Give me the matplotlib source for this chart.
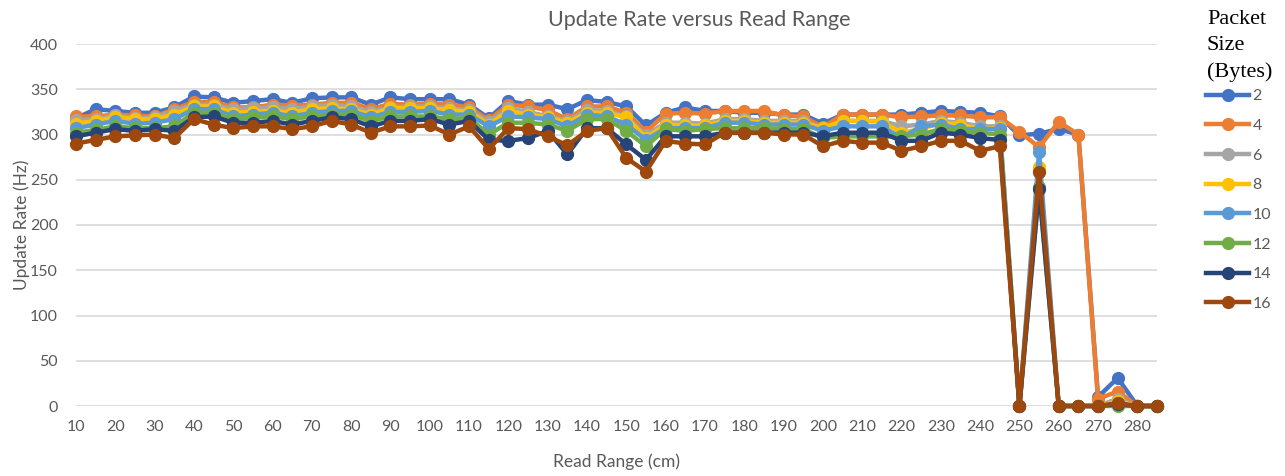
import matplotlib
matplotlib.use("Agg")
import matplotlib.pyplot as plt

# ---------- data ----------
read_range = [10, 15, 20, 25, 30, 35, 40, 45, 50, 55,
              60, 65, 70, 75, 80, 85, 90, 95, 100, 105,
              110, 115, 120, 125, 130, 135, 140, 145, 150, 155,
              160, 165, 170, 175, 180, 185, 190, 195, 200, 205,
              210, 215, 220, 225, 230, 235, 240, 245, 250, 255,
              260, 265, 270, 275, 280, 285]

packet_sizes = ["2", "4", "6", "8", "10", "12", "14", "16"]

rate_2 = [318, 328, 326, 324, 324, 330, 342, 341, 335, 337,
          339, 335, 340, 341, 341, 333, 341, 339, 339, 339,
          333, 318, 337, 333, 333, 328, 338, 336, 331, 310,
          324, 330, 326, 326, 324, 324, 322, 322, 312, 322,
          322, 322, 322, 324, 326, 325, 324, 320, 299, 301,
          306, 300, 10, 31, 0, 0]
rate_4 = [320, 320, 322, 321, 320, 328, 336, 336, 330, 330,
          333, 332, 333, 335, 335, 328, 334, 333, 334, 333,
          330, 316, 333, 331, 327, 317, 331, 331, 324, 303,
          323, 324, 323, 326, 326, 326, 321, 320, 308, 322,
          322, 322, 319, 320, 321, 321, 319, 319, 303, 286,
          314, 300, 8, 16, 0, 0]
rate_6 = [316, 317, 321, 318, 319, 326, 333, 333, 328, 329,
          330, 328, 331, 333, 331, 325, 330, 331, 331, 329,
          327, 314, 329, 325, 320, 315, 327, 326, 320, 299,
          313, 313, 312, 317, 317, 315, 315, 315, 307, 315,
          315, 315, 309, 311, 315, 313, 309, 309, 0, 262,
          0, 0, 0, 8, 0, 0]
rate_8 = [312, 315, 319, 317, 317, 322, 331, 331, 324, 325,
          326, 324, 328, 329, 328, 322, 329, 329, 329, 327,
          325, 311, 326, 322, 319, 313, 324, 324, 319, 296,
          311, 310, 310, 315, 315, 313, 313, 313, 307, 315,
          315, 314, 302, 306, 313, 311, 306, 307, 0, 264,
          0, 0, 0, 5, 0, 0]
rate_10 = [307, 311, 315, 312, 313, 317, 328, 328, 320, 322,
           324, 320, 324, 326, 326, 319, 325, 325, 326, 322,
           322, 309, 320, 319, 317, 309, 322, 320, 311, 294,
           307, 307, 307, 313, 313, 311, 311, 311, 304, 309,
           309, 309, 296, 309, 311, 306, 306, 306, 0, 281,
           0, 0, 0, 3, 0, 0]
rate_12 = [302, 305, 309, 307, 307, 309, 324, 324, 317, 319,
           320, 317, 320, 322, 322, 315, 320, 320, 320, 317,
           318, 300, 313, 313, 311, 304, 317, 317, 304, 287,
           306, 304, 306, 307, 307, 307, 306, 306, 296, 298,
           298, 298, 298, 300, 306, 304, 302, 300, 0, 242,
           0, 0, 0, 0, 0, 0]
rate_14 = [298, 302, 306, 304, 306, 304, 319, 320, 313, 313,
           315, 311, 315, 319, 317, 309, 315, 315, 317, 311,
           315, 294, 293, 296, 304, 278, 307, 307, 289, 272,
           298, 298, 298, 302, 302, 302, 302, 302, 298, 302,
           302, 302, 293, 293, 302, 300, 296, 294, 0, 240,
           0, 0, 0, 2, 0, 0]
rate_16 = [290, 294, 298, 299, 300, 296, 317, 311, 307, 309,
           309, 306, 309, 315, 311, 302, 309, 309, 310, 300,
           309, 284, 307, 306, 298, 288, 304, 307, 274, 259,
           293, 290, 289, 302, 302, 302, 300, 300, 287, 293,
           291, 291, 282, 287, 293, 293, 282, 287, 0, 259,
           0, 0, 0, 3, 0, 0]

series = [rate_2, rate_4, rate_6, rate_8, rate_10, rate_12, rate_14, rate_16]

# Office palette
COLORS = ["#4472C4", "#ED7D31", "#A5A5A5", "#FFC000",
          "#5B9BD5", "#70AD47", "#264478", "#9E480E"]

TEXT_GRAY = "#595959"
GRID_GRAY = "#D9D9D9"
plt.rcParams["font.family"] = ["Lato", "DejaVu Sans"]


def main():
    fig = plt.figure(figsize=(12.85, 4.76), dpi=100)
    ax = fig.add_axes([76 / 1285, 1 - 406 / 476, (1157 - 76) / 1285, (406 - 44) / 476])

    handles = []
    for vals, color, label in zip(series, COLORS, packet_sizes):
        ln, = ax.plot(read_range, vals, color=color, lw=3.2, marker="o",
                      markersize=8.5, markerfacecolor=color, markeredgecolor=color,
                      label=label, clip_on=False, solid_joinstyle="round")
        handles.append(ln)

    ax.set_xlim(10, 285)
    ax.set_ylim(0, 400)
    ax.set_yticks(range(0, 401, 50))
    ax.set_xticks(range(10, 281, 10))
    ax.grid(axis="y", color=GRID_GRAY, lw=1.2)
    ax.grid(axis="x", visible=False)
    ax.set_axisbelow(True)
    for spine in ax.spines.values():
        spine.set_visible(False)
    ax.tick_params(axis="both", length=0, labelsize=11.5, labelcolor=TEXT_GRAY)
    ax.tick_params(axis="y", pad=13)
    ax.tick_params(axis="x", pad=10)

    ax.set_xlabel("Read Range (cm)", fontsize=12.5, color=TEXT_GRAY)
    ax.set_ylabel("Update Rate (Hz)", fontsize=12.5, color=TEXT_GRAY)
    ax.xaxis.set_label_coords(0.5, -(462 - 406) / 362, transform=ax.transAxes)
    ax.yaxis.set_label_coords((22 - 76) / 1081, 0.5, transform=ax.transAxes)
    ax.xaxis.label.set_va("center")
    ax.yaxis.label.set_va("center")

    fig.text(699 / 1285, 1 - 20 / 476, "Update Rate versus Read Range",
             ha="center", va="center", fontsize=15.5, color=TEXT_GRAY)

    # legend title in serif, like the original
    fig.text(1207 / 1285, 1 - 10 / 476, "Packet\nSize\n(Bytes)", ha="left", va="top",
             fontsize=16, family="Liberation Serif", color="black", linespacing=1.5)

    fig.legend(handles=handles, loc="upper left",
               bbox_to_anchor=(1206 / 1285, 1 - 89 / 476),
               frameon=False, fontsize=11.5, labelcolor=TEXT_GRAY,
               handlelength=2.7, handletextpad=0.2, labelspacing=0.97,
               borderpad=0.0, borderaxespad=0)

    fig.savefig("out.png", dpi=100)
    plt.close(fig)


if __name__ == "__main__":
    main()
